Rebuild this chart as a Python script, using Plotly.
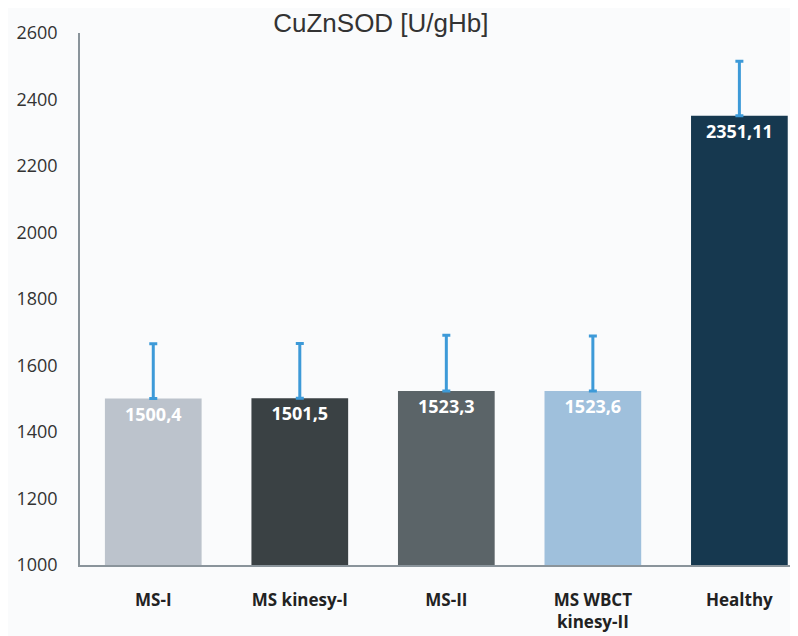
import plotly.graph_objects as go

categories = ["MS-I", "MS kinesy-I", "MS-II", "MS WBCT<br>kinesy-II", "Healthy"]
values = [1500.4, 1501.5, 1523.3, 1523.6, 2351.11]
labels = ["1500,4", "1501,5", "1523,3", "1523,6", "2351,11"]
errors = [165, 165, 168, 165, 164]
colors = ["#bcc3cc", "#3a4144", "#5b6468", "#9fc0dc", "#16384f"]
yticks = [1000, 1200, 1400, 1600, 1800, 2000, 2200, 2400, 2600]

fig = go.Figure(go.Bar(
    x=categories, y=values, base=0,
    marker=dict(color=colors, line=dict(width=0)),
    width=0.66,
    text=labels, textposition="inside", insidetextanchor="end",
    textangle=0,
    textfont=dict(family="Open Sans", size=18, color="white", weight="bold"),
    error_y=dict(type="data", array=errors, arrayminus=[0]*5, symmetric=False,
                 color="#3d9ad8", thickness=3, width=4),
    cliponaxis=False,
))

fig.update_layout(
    width=790, height=628,
    margin=dict(l=72, r=0, t=25, b=71),
    paper_bgcolor="#fafbfc", plot_bgcolor="#fafbfc",
    showlegend=False,
    title=dict(text="CuZnSOD [U/gHb]", x=0.472, xanchor="center", y=0.976, yanchor="middle",
               font=dict(family="Liberation Sans", size=26, color="#333333")),
    xaxis=dict(range=[-0.5, 4.40], showgrid=False, showline=True, linecolor="#8a949b",
               linewidth=1.5, ticks="", ticklabelstandoff=19,
               tickfont=dict(family="Open Sans", size=17, color="#222222", weight="bold")),
    yaxis=dict(range=[1000, 2600], tickvals=yticks, showgrid=False, showline=True,
               linecolor="#8a949b", linewidth=1.5, ticks="", zeroline=False,
               ticklabelstandoff=17,
               tickfont=dict(family="Open Sans", size=18, color="#333333")),
    bargap=0.34,
)

fig.write_html("out.html")
